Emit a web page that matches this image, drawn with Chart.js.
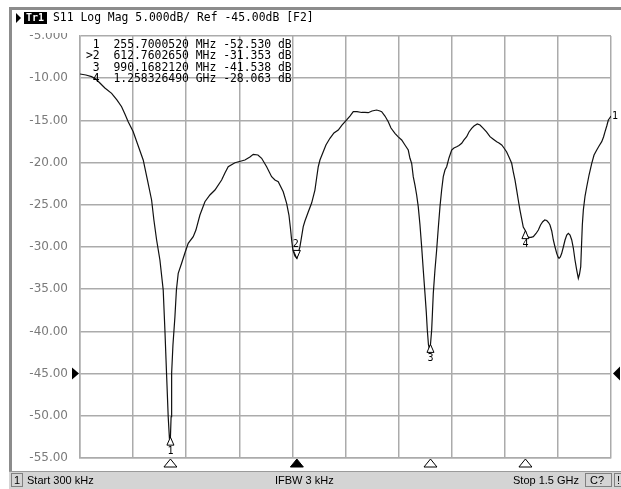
<!DOCTYPE html>
<html>
<head>
<meta charset="utf-8">
<script src="https://cdn.jsdelivr.net/npm/chart.js@4/dist/chart.umd.min.js"></script>
<style>
  html, body { margin: 0; padding: 0; background: #fff; }
  #wrap { width: 621px; height: 489px; }
</style>
</head>
<body>
<div id="wrap"><canvas id="c" width="621" height="489"></canvas></div>
<script>
// sweep, MHz (start 300 kHz, stop 1.5 GHz)
const freqMHz = [0.3,17,33,45,56.5,70.6,89.6,104.5,117.8,127.1,136.4,150.6,163.8,178.8,190.7,202.5,209,216.7,226,235.3,
  240.1,244.9,249.4,252.8,255.7,257.6,259.1,262.8,268.4,272.6,277.7,287.3,296.6,305.9,320.1,327.7,339,353.1,367.2,381.4,
  400.3,409.6,418.9,437.9,466.1,480.2,489.6,502.8,513.3,527.4,541.5,550.9,560.2,574.3,583.9,590.4,594.6,598,601.7,607.3,
  612.8,621.5,626.2,630.8,635.6,644.9,654.5,663.8,668.6,673.2,678,687.3,694.9,706.2,717.5,729.7,740.1,753.4,762.7,772.1,
  782.6,795.8,805.1,814.4,824.9,838.1,847.5,852.3,861.6,870.9,878.6,889.8,898.3,908.8,918.1,927.4,932.2,937,941.5,946.2,
  951.1,955.6,960.5,965.2,969.8,974.6,978.3,981.2,984.5,987.3,990.2,993.5,995.8,998.1,1002.8,1007.6,1012.2,1017,1021.7,1026.3,
  1031.1,1035.9,1042.4,1050,1056.5,1064.1,1070.6,1078.3,1084.8,1092.4,1098.9,1106.5,1113,1122.3,1130,1139.3,1148.4,1158.2,1166.7,1177.2,
  1183.6,1191.3,1197.8,1205.3,1211.8,1219.5,1224,1228.8,1233.6,1238.1,1242.9,1247.7,1252.2,1258.3,1261.4,1266.5,1274.1,1280.6,1288.3,1294.8,
  1301,1307.2,1312.9,1318.5,1323.6,1327.7,1332.6,1337.1,1341.9,1346.7,1350.4,1353.2,1356.9,1360.8,1365.4,1370.2,1375,1379.5,1384.3,1389.1,
  1393.6,1398.3,1403.2,1407.7,1411.1,1414.5,1416.8,1419,1421.9,1426.7,1431.5,1438,1445.6,1452.1,1459.7,1466.2,1473.8,1478.9,1483.2,1488,
  1492.5,1499.3,1500];

// S11 log mag, dB
const s11dB = [-9.50,-9.62,-9.82,-10.09,-10.57,-11.16,-11.79,-12.58,-13.38,-14.24,-15.15,-16.34,-17.91,-19.69,-22.06,-24.43,-26.80,-29.17,-31.54,-35.09,
  -39.83,-45.17,-50.11,-52.63,-52.53,-50.11,-44.96,-41.61,-38.26,-35.09,-33.12,-31.93,-30.71,-29.56,-28.78,-27.99,-26.21,-24.63,-23.84,-23.25,
  -22.06,-21.23,-20.49,-20.01,-19.69,-19.34,-19.02,-19.10,-19.49,-20.49,-21.67,-22.06,-22.26,-23.45,-24.82,-26.21,-27.75,-29.17,-30.36,-31.05,
  -31.35,-29.96,-28.78,-27.59,-26.92,-25.85,-24.79,-23.25,-21.82,-20.49,-19.69,-18.71,-17.91,-17.12,-16.49,-16.14,-15.55,-14.95,-14.48,-13.97,
  -13.95,-14.06,-14.06,-14.09,-13.89,-13.77,-13.89,-13.97,-14.48,-15.15,-15.90,-16.53,-16.93,-17.32,-17.91,-18.51,-19.49,-20.08,-21.67,-22.65,
  -23.84,-25.22,-27.39,-29.96,-32.73,-35.49,-37.70,-39.83,-41.61,-42.08,-41.54,-39.83,-37.70,-35.49,-32.73,-30.36,-27.75,-25.22,-23.25,-21.67,
  -20.88,-20.49,-19.45,-18.51,-18.27,-18.12,-17.97,-17.71,-17.32,-16.93,-16.37,-15.94,-15.66,-15.43,-15.55,-15.94,-16.37,-16.93,-17.20,-17.52,
  -17.68,-17.91,-18.27,-18.74,-19.34,-20.08,-21.11,-22.06,-23.25,-24.43,-25.62,-26.68,-27.63,-28.06,-28.58,-28.87,-28.85,-28.78,-28.40,-27.99,
  -27.39,-27.00,-26.80,-26.86,-27.10,-27.39,-28.10,-29.17,-30.00,-30.75,-31.18,-31.34,-31.18,-30.75,-30.00,-29.17,-28.58,-28.38,-28.58,-29.17,
  -30.12,-31.54,-32.73,-33.71,-33.20,-32.33,-29.76,-27.39,-25.62,-23.96,-22.86,-21.47,-20.08,-19.10,-18.51,-18.03,-17.52,-16.97,-16.34,-15.66,
  -14.95,-14.56,-14.48];

// markers
const markerFreq = [255.7000520, 612.7602650, 990.1682120, 1258.326490];
const markerDb = [-52.530, -31.353, -41.538, -28.063];
const markerRows = [
  ' 1  255.7000520 MHz -52.530 dB',
  '>2  612.7602650 MHz -31.353 dB',
  ' 3  990.1682120 MHz -41.538 dB',
  ' 4  1.258326490 GHz -28.063 dB'
];
const activeMarker = 1;

const yTicks = [-5, -10, -15, -20, -25, -30, -35, -40, -45, -50, -55];
const yTickLabels = ['-5.000','-10.00','-15.00','-20.00','-25.00','-30.00','-35.00','-40.00','-45.00','-50.00','-55.00'];
const refLevel = -45;
const startMHz = 0.3, stopMHz = 1500;

const MONO = "11.4px 'DejaVu Sans Mono'";
const SANS = "11px 'Liberation Sans'";

function tri(ctx, x, y, w, h, up, fill) {
  ctx.beginPath();
  if (up) { ctx.moveTo(x, y); ctx.lineTo(x - w / 2, y + h); ctx.lineTo(x + w / 2, y + h); }
  else { ctx.moveTo(x, y); ctx.lineTo(x - w / 2, y - h); ctx.lineTo(x + w / 2, y - h); }
  ctx.closePath();
  ctx.fillStyle = fill ? '#000' : '#fff';
  ctx.fill();
  ctx.strokeStyle = '#000';
  ctx.lineWidth = 1;
  ctx.stroke();
}

const decor = {
  id: 'decor',
  afterDraw(chart) {
    const ctx = chart.ctx;
    const xs = chart.scales.x, ys = chart.scales.y;
    const area = chart.chartArea;
    ctx.save();

    // header strip (hides upper half of top label like the instrument)
    ctx.fillStyle = '#fff';
    ctx.fillRect(11, 10, 610, 23);
    ctx.fillStyle = '#8c8c8c';
    ctx.fillRect(9, 7, 612, 3);
    ctx.fillRect(9, 7, 3, 464);

    // header text
    ctx.fillStyle = '#000';
    ctx.beginPath();
    ctx.moveTo(16, 13); ctx.lineTo(21, 18); ctx.lineTo(16, 23); ctx.closePath(); ctx.fill();
    ctx.fillRect(24, 12, 23, 12);
    ctx.font = "bold 10px 'DejaVu Sans Mono'";
    ctx.fillStyle = '#fff';
    ctx.textBaseline = 'middle';
    ctx.fillText('Tr1', 26, 18.5);
    ctx.fillStyle = '#000';
    ctx.font = MONO;
    ctx.fillText('S11 Log Mag 5.000dB/ Ref -45.00dB [F2]', 53, 18.5);

    // marker table
    markerRows.forEach((r, i) => ctx.fillText(r, 86, 45 + i * 11.5));

    // markers on trace
    ctx.textAlign = 'center';
    ctx.font = "10px 'DejaVu Sans Mono'";
    markerFreq.forEach((f, i) => {
      const px = xs.getPixelForValue(f), py = ys.getPixelForValue(markerDb[i]);
      if (i === activeMarker) {
        tri(ctx, px, py, 7, 8, false, false);
        ctx.fillStyle = '#000';
        ctx.fillText(String(i + 1), px - 1, py - 14);
      } else {
        tri(ctx, px, py, 7, 8, true, false);
        ctx.fillStyle = '#000';
        ctx.fillText(String(i + 1), px, py + 14);
      }
      // marker position flags under the grid
      tri(ctx, px, area.bottom + 1, 13, 8, true, i === activeMarker);
    });

    // trace end label
    ctx.fillStyle = '#000';
    ctx.textAlign = 'left';
    ctx.fillText('1', area.right + 1, ys.getPixelForValue(s11dB[s11dB.length - 1]));

    // reference level arrows
    const ry = ys.getPixelForValue(refLevel);
    ctx.beginPath();
    ctx.moveTo(72, ry - 6); ctx.lineTo(79, ry); ctx.lineTo(72, ry + 6); ctx.closePath(); ctx.fill();
    ctx.beginPath();
    ctx.moveTo(620, ry - 7); ctx.lineTo(613, ry); ctx.lineTo(620, ry + 7); ctx.closePath(); ctx.fill();

    // status bar
    ctx.fillStyle = '#d4d4d4';
    ctx.fillRect(9, 471, 612, 18);
    ctx.fillStyle = '#9a9a9a';
    ctx.fillRect(9, 471, 612, 1);
    ctx.strokeStyle = '#808080';
    ctx.lineWidth = 1;
    ctx.strokeRect(11.5, 473.5, 11, 13);
    ctx.strokeRect(585.5, 473.5, 26, 13);
    ctx.strokeRect(614.5, 473.5, 10, 13);
    ctx.fillStyle = '#000';
    ctx.font = SANS;
    ctx.textBaseline = 'middle';
    ctx.textAlign = 'left';
    ctx.fillText('1', 14, 480.5);
    ctx.fillText('Start 300 kHz', 27, 480.5);
    ctx.fillText('IFBW 3 kHz', 275, 480.5);
    ctx.fillText('Stop 1.5 GHz', 513, 480.5);
    ctx.fillText('C?', 590, 480.5);
    ctx.fillText('!', 617, 480.5);
    ctx.restore();
  }
};

new Chart(document.getElementById('c'), {
  type: 'line',
  data: {
    datasets: [{
      data: freqMHz.map((f, i) => ({ x: f, y: s11dB[i] })),
      borderColor: '#111',
      borderWidth: 1.2,
      pointRadius: 0,
      tension: 0,
      fill: false
    }]
  },
  options: {
    responsive: false,
    animation: false,
    events: [],
    layout: { padding: { left: 0, top: 36, right: 10, bottom: 31 } },
    plugins: { legend: { display: false }, tooltip: { enabled: false } },
    scales: {
      x: {
        type: 'linear',
        min: startMHz,
        max: stopMHz,
        afterBuildTicks: s => {
          s.ticks = [];
          for (let k = 0; k <= 10; k++) s.ticks.push({ value: startMHz + k * (stopMHz - startMHz) / 10 });
        },
        afterFit: s => { s.height = 0; },
        ticks: { display: false },
        grid: { color: '#ababab', lineWidth: 1.5, drawTicks: false },
        border: { color: '#ababab', width: 1.5 }
      },
      y: {
        min: -55,
        max: -5,
        afterBuildTicks: s => { s.ticks = yTicks.map(v => ({ value: v })); },
        afterFit: s => { s.width = 80; },
        ticks: {
          padding: 12,
          color: '#7a7a7a',
          font: { family: 'DejaVu Sans', size: 12 },
          callback: v => yTickLabels[yTicks.indexOf(v)]
        },
        grid: { color: '#ababab', lineWidth: 1.5, drawTicks: false },
        border: { color: '#ababab', width: 1.5 }
      }
    }
  },
  plugins: [decor]
});
</script>
</body>
</html>
